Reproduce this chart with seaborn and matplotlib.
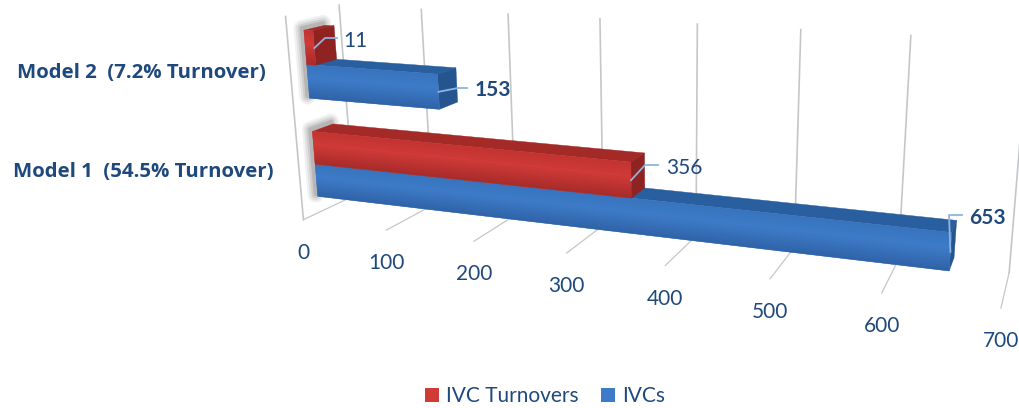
import numpy as np
import pandas as pd
import matplotlib
matplotlib.use('Agg')
import matplotlib.pyplot as plt
import seaborn as sns
from matplotlib.colors import to_rgb
from matplotlib.patches import Patch, Polygon
from matplotlib.transforms import Transform

categories = ['Model 1  (54.5% Turnover)', 'Model 2  (7.2% Turnover)']
ivcs = [653, 153]
ivc_turnovers = [356, 11]
value_ticks = [0, 100, 200, 300, 400, 500, 600, 700]

TEXT = '#1f497d'
LEADER = '#8db4e2'
GRID = '#c4c7ca'
BLUE = {'top': '#3873bd', 'mid': '#3d7bc8', 'bot': '#2f63a8', 'lid': '#2a5f9f', 'end': '#25558f'}
RED = {'top': '#c23230', 'mid': '#d03a37', 'bot': '#a62b2a', 'lid': '#a42a27', 'end': '#8e2321'}
DEPTH = (0.3, 0.7)

# camera fit: (value, depth, height) of the chart box -> picture pixels
calib_box = [(0, 0, 0), (100, 0, 0), (200, 0, 0), (300, 0, 0), (400, 0, 0), (500, 0, 0), (600, 0, 0), (700, 0, 0),
             (0, 1, 0), (700, 1, 0),
             (0, 1, 1), (100, 1, 1), (200, 1, 1), (300, 1, 1), (400, 1, 1), (500, 1, 1), (600, 1, 1),
             (0, 0, 1)]
calib_px = [(303, 219), (386, 230), (474, 241), (567, 253), (665, 266), (770, 279), (882, 293), (1001, 308),
            (354, 197), (1009, 272),
            (339, 5), (421, 9), (508, 14), (600, 18), (697, 24), (801, 30), (911, 36),
            (286, 17)]


def fit_camera(box, px):
    rows, rhs = [], []
    for (v, d, h), (u, w) in zip(box, px):
        rows.append([v, d, h, 1, 0, 0, 0, 0, -u * v, -u * d, -u * h])
        rows.append([0, 0, 0, 0, v, d, h, 1, -w * v, -w * d, -w * h])
        rhs += [u, w]
    p = np.linalg.lstsq(np.array(rows, float), np.array(rhs, float), rcond=None)[0]
    return np.append(p, 1).reshape(3, 4)


CAMERA = fit_camera(calib_box, calib_px)


def project(v, d, h):
    pts = np.column_stack([np.broadcast_arrays(v, d, h, 1.0)]).reshape(4, -1).T
    out = pts @ CAMERA.T
    return out[:, :2] / out[:, 2:]


def slot_to_height(y):
    # categorical position on the seaborn axis -> height on the chart wall
    return (np.asarray(y, float) + 0.5) / 2


class FrontFace(Transform):
    input_dims = 2
    output_dims = 2
    is_separable = False
    has_inverse = False

    def transform_non_affine(self, values):
        values = np.asarray(values, float)
        return project(values[:, 0], DEPTH[0], slot_to_height(values[:, 1]))


df = pd.DataFrame({
    'model': categories * 2,
    'series': ['IVCs'] * 2 + ['IVC Turnovers'] * 2,
    'count': ivcs + ivc_turnovers,
})

fig = plt.figure(figsize=(10.2, 4.08), dpi=100)
ax = fig.add_axes([0, 0, 1, 1])
sns.barplot(data=df, x='count', y='model', hue='series', hue_order=['IVCs', 'IVC Turnovers'],
            order=categories, orient='h', width=0.667, gap=0, legend=False,
            palette={'IVCs': BLUE['mid'], 'IVC Turnovers': RED['mid']}, ax=ax)
ax.set_xlim(0, 1020)
ax.set_ylim(408, 0)
ax.axis('off')
plt.rcParams['font.family'] = ['Lato', 'DejaVu Sans']


def line3d(p0, p1, **kw):
    xy = project(*np.array([p0, p1]).T)
    ax.plot(xy[:, 0], xy[:, 1], **kw)


# floor and wall grid
for v in value_ticks:
    line3d((v, 0, 0), (v, 1, 0), color=GRID, lw=0.9, zorder=0.5)
    line3d((v, 1, 0), (v, 1, 1), color=GRID, lw=1.2, zorder=0.5)
    fx, fy = project(v, 0, 0)[0]
    ax.text(fx, fy + 33, str(v), color=TEXT, fontsize=15, ha='center', va='center')
line3d((0, 0, 0), (0, 0, 1), color=GRID, lw=1.2, zorder=0.5)


def face(corners, color, z):
    ax.add_patch(Polygon(project(*np.array(corners, float).T), closed=True, fc=color, ec=color, lw=0.3, zorder=z))


def mix(a, b, t):
    return tuple((1 - t) * np.array(to_rgb(a)) + t * np.array(to_rgb(b)))


# seaborn's bars are the front faces; depth faces and shading are built on them
for s, (container, col) in enumerate(zip(ax.containers, [BLUE, RED])):
    z = 2 + s
    for rect in container:
        val = rect.get_width()
        y0, y1 = rect.get_y(), rect.get_y() + rect.get_height()
        h0, h1 = float(slot_to_height(y0)), float(slot_to_height(y1))
        d0, d1 = DEPTH
        rect.set_transform(FrontFace() + ax.transData)
        rect.set_zorder(z + 0.1)
        face([(0, d0, h1), (val, d0, h1), (val, d1, h1), (0, d1, h1)], col['lid'], z)
        face([(val, d0, h0), (val, d1, h0), (val, d1, h1), (val, d0, h1)], col['end'], z)
        steps = 14
        for i in range(steps):
            t = (i + 0.5) / steps
            c = mix(col['top'], col['mid'], t / 0.4) if t < 0.4 else mix(col['mid'], col['bot'], (t - 0.4) / 0.6)
            ha = h1 + (h0 - h1) * i / steps
            hb = h1 + (h0 - h1) * (i + 1) / steps
            face([(0, d0, ha), (val, d0, ha), (val, d0, hb), (0, d0, hb)], c, z + 0.2)

# soft shadow round the left ends of each bar pair
for y in range(len(categories)):
    hb, ht = float(slot_to_height(y - 0.333)), float(slot_to_height(y + 0.333))
    edge = project(*np.array([(0, DEPTH[0], hb), (0, DEPTH[0], ht), (0, DEPTH[1], ht)]).T)
    edge = edge + np.array([-2, -2])
    for lw, a in zip([12, 9, 6, 3], [0.07, 0.09, 0.12, 0.16]):
        ax.plot(edge[:, 0], edge[:, 1], color='#404040', alpha=a, lw=lw, zorder=1.5, solid_capstyle='round')

# value labels: text anchor, leader elbow and end in pixels, leader start from the bar
labels = [
    ('11', ivc_turnovers[1], 1, (343, 41), (325, 38), (337, 38), 'normal'),
    ('153', ivcs[1], 1, (475, 90), (458, 88), (467, 88), 'bold'),
    ('356', ivc_turnovers[0], 0, (666, 168), (645, 165), (658, 165), 'normal'),
    ('653', ivcs[0], 0, (969, 218), (949, 215), (962, 215), 'bold'),
]
for txt, val, y, pos, elbow, end, weight in labels:
    slot = y + 0.1667 if val in ivc_turnovers else y - 0.1667
    start = project(val, DEPTH[0], float(slot_to_height(slot)))[0]
    ax.plot([start[0], elbow[0], end[0]], [start[1], elbow[1], end[1]], color=LEADER, lw=1.3, zorder=5)
    ax.text(pos[0], pos[1], txt, color=TEXT, fontsize=15, fontweight=weight, ha='left', va='center', zorder=6)

ax.text(17, 73, categories[1], color=TEXT, fontsize=14.7, fontweight='bold', ha='left', va='center',
        family=['Open Sans', 'DejaVu Sans'])
ax.text(13, 172, categories[0], color=TEXT, fontsize=14.7, fontweight='bold', ha='left', va='center',
        family=['Open Sans', 'DejaVu Sans'])

handles = [Patch(fc=RED['mid'], label='IVC Turnovers'), Patch(fc=BLUE['mid'], label='IVCs')]
leg = ax.legend(handles=handles, loc='center', bbox_to_anchor=(545 / 1020, 1 - 396 / 408), ncol=2,
                frameon=False, fontsize=15, handlelength=0.68, handleheight=0.68,
                handletextpad=0.3, columnspacing=1.1, labelcolor=TEXT)

fig.savefig('out.png', dpi=100)
